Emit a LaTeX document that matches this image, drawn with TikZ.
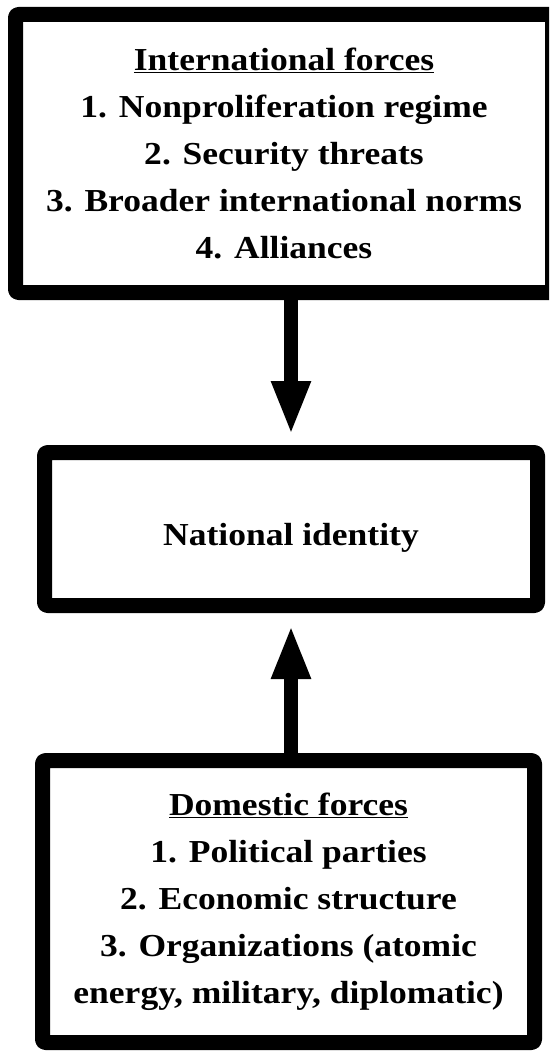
\documentclass[tikz,border=0pt]{standalone}
\usepackage{fontspec}
\setmainfont[BoldFeatures={FakeStretch=1.11}]{Liberation Serif}
\usetikzlibrary{arrows.meta}
\begin{document}
\begin{tikzpicture}[x=1pt, y=-1pt, line join=round, >={Triangle[length=54pt,width=36pt]},
  box/.style={draw, line width=15pt, rounded corners=3pt, align=center, inner sep=0pt, font=\bfseries\fontsize{32}{47}\selectfont},
  flow/.style={->, line width=14pt}]
\useasboundingbox (0,0) rectangle (549,1051);
\clip (0,0) rectangle (549,1051);
\node[box, minimum width=537pt, minimum height=278pt] (intl) at (284,153.5) {\underline{International forces}\\1. Nonproliferation regime\\2. Security threats\\3. Broader international norms\\4. Alliances};
\node[box, minimum width=493pt, minimum height=153pt, text height=42pt, text depth=10pt] (nat) at (291,529) {National identity};
\node[box, minimum width=492pt, minimum height=282pt] (dom) at (288.5,901.5) {\underline{Domestic forces}\\1. Political parties\\2. Economic structure\\3. Organizations (atomic\\energy, military, diplomatic)};
\draw[flow, shorten >=10pt] (intl.south -| nat) -- (nat.north);
\draw[flow, shorten >=12pt] (dom.north -| nat) -- (nat.south);
\end{tikzpicture}
\end{document}
